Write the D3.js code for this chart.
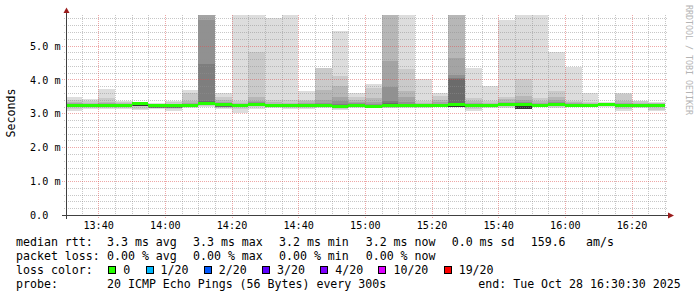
<!DOCTYPE html>
<html>
<head>
<meta charset="utf-8">
<script src="https://cdn.jsdelivr.net/npm/d3@7"></script>
<style>
html, body { margin: 0; padding: 0; background: #ffffff; }
svg { display: block; }
</style>
</head>
<body>
<svg id="chart" width="697" height="297"></svg>
<script>
// one slot every 300s, 20 pings each
var slotStart = ["13:30","13:35","13:40","13:45","13:50","13:55",
	"14:00","14:05","14:10","14:15","14:20","14:25",
	"14:30","14:35","14:40","14:45","14:50","14:55",
	"15:00","15:05","15:10","15:15","15:20","15:25",
	"15:30","15:35","15:40","15:45","15:50","15:55",
	"16:00","16:05","16:10","16:15","16:20","16:25"];

// median rtt (ms)
var median = [3.24,3.24,3.24,3.22,3.28,3.22,3.22,3.23,3.30,3.25,3.24,3.27,
	3.24,3.22,3.24,3.23,3.21,3.24,3.21,3.23,3.23,3.23,3.23,3.27,
	3.23,3.22,3.25,3.25,3.23,3.27,3.24,3.24,3.27,3.24,3.24,3.24];

// lost pings out of 20
var lost = [0,0,0,0,0,0,0,0,0,0,0,0,0,0,0,0,0,0,
	0,0,0,0,0,0,0,0,0,0,0,0,0,0,0,0,0,0];

// smoke: upper edge of each layer, outermost first (ms)
var top1 = [3.47,3.42,3.72,3.37,3.32,3.29,3.37,3.69,6.50,3.59,6.20,6.30,
	5.81,6.10,3.66,4.35,5.43,3.61,3.86,6.40,6.20,4.00,3.59,6.30,
	4.35,3.81,5.75,6.30,6.10,4.80,4.38,3.60,3.32,3.60,3.37,3.32];
var top2 = [3.40,3.37,3.44,3.33,3.31,3.27,3.32,3.59,6.30,3.48,3.36,4.82,
	3.40,3.38,3.40,4.33,4.11,3.47,3.74,6.20,4.31,3.36,3.52,6.10,
	3.45,3.36,3.48,4.00,3.46,3.66,3.36,3.33,3.30,3.58,3.35,3.31];
var top3 = [3.33,3.30,3.33,3.29,3.30,3.26,3.28,3.35,6.10,3.39,3.30,3.47,
	3.32,3.31,3.36,3.69,3.81,3.39,3.45,6.00,3.67,3.30,3.40,5.95,
	3.35,3.30,3.42,3.50,3.36,3.48,3.33,3.29,3.29,3.35,3.30,3.29];
var top4 = [3.30,3.28,3.30,3.27,3.30,3.25,3.26,3.30,5.95,3.34,3.28,3.36,
	3.28,3.27,3.30,3.40,3.49,3.33,3.32,4.55,3.47,3.27,3.32,4.64,
	3.30,3.27,3.34,3.38,3.30,3.38,3.30,3.27,3.28,3.29,3.28,3.27];
var top5 = [3.28,3.28,3.28,3.26,3.30,3.24,3.25,3.27,5.75,3.31,3.27,3.32,
	3.27,3.25,3.27,3.30,3.35,3.29,3.28,3.78,3.34,3.26,3.28,4.13,
	3.27,3.25,3.30,3.32,3.27,3.32,3.28,3.26,3.28,3.27,3.27,3.26];
var top6 = [3.26,3.27,3.26,3.25,3.30,3.24,3.24,3.25,4.45,3.29,3.26,3.30,
	3.26,3.24,3.26,3.27,3.28,3.27,3.25,3.37,3.28,3.25,3.26,4.04,
	3.25,3.24,3.28,3.29,3.25,3.30,3.27,3.25,3.28,3.26,3.26,3.25];
var top7 = [3.25,3.26,3.25,3.24,3.30,3.23,3.23,3.24,3.36,3.27,3.25,3.29,
	3.25,3.23,3.25,3.25,3.25,3.26,3.23,3.30,3.26,3.24,3.25,4.00,
	3.24,3.23,3.27,3.27,3.24,3.29,3.26,3.25,3.27,3.25,3.25,3.25];

// smoke: lower edges (outer, second, and the inner layers)
var bot1 = [3.08,3.12,3.14,3.12,3.10,3.12,3.08,3.15,3.18,3.12,3.00,3.14,
	3.15,3.14,3.14,3.17,3.10,3.17,3.15,3.15,3.15,3.17,3.19,3.19,
	3.07,3.17,3.17,3.12,3.19,3.15,3.19,3.19,3.19,3.08,3.15,3.06];
var bot2 = [3.13,3.16,3.17,3.15,3.14,3.15,3.12,3.18,3.21,3.16,3.12,3.18,
	3.18,3.17,3.17,3.19,3.14,3.19,3.17,3.17,3.18,3.19,3.20,3.21,
	3.12,3.19,3.19,3.15,3.20,3.18,3.20,3.20,3.21,3.13,3.18,3.11];
var bot3 = [3.19,3.19,3.20,3.18,3.22,3.17,3.17,3.19,3.25,3.20,3.19,3.22,
	3.20,3.18,3.20,3.19,3.17,3.20,3.17,3.19,3.19,3.19,3.19,3.23,
	3.18,3.18,3.21,3.20,3.19,3.22,3.20,3.20,3.22,3.20,3.20,3.20];

// darkest core (middle pings)
var coreLo = [3.22,3.22,3.22,3.20,3.22,3.20,3.20,3.21,3.27,3.23,3.22,3.25,
	3.22,3.19,3.22,3.21,3.19,3.22,3.19,3.21,3.21,3.21,3.20,3.18,
	3.21,3.20,3.23,3.13,3.21,3.25,3.19,3.22,3.25,3.19,3.22,3.22];
var coreHi = [3.26,3.26,3.26,3.24,3.29,3.24,3.24,3.25,3.33,3.27,3.26,3.29,
	3.26,3.24,3.26,3.25,3.23,3.26,3.23,3.25,3.25,3.25,3.25,3.29,
	3.25,3.24,3.27,3.27,3.25,3.29,3.26,3.26,3.29,3.26,3.26,3.26];

var yTickValues = [0, 1, 2, 3, 4, 5];
var yTickLabels = ["0.0", "1.0 m", "2.0 m", "3.0 m", "4.0 m", "5.0 m"];
var xTickLabels = ["13:40","14:00","14:20","14:40","15:00","15:20","15:40","16:00","16:20"];

var lossSteps = [0, 1, 2, 3, 4, 10, 19];
var lossLabels = ["0", "1/20", "2/20", "3/20", "4/20", "10/20", "19/20"];
var lossColors = ["#26ff00", "#00b8ff", "#0059ff", "#5e00ff", "#7e00ff", "#dd00ff", "#ff0000"];

var medianStats = ["3.3 ms avg", "3.3 ms max", "3.2 ms min", "3.2 ms now", "0.0 ms sd", "159.6", "am/s"];
var lossStats = ["0.00 % avg", "0.00 % max", "0.00 % min", "0.00 % now"];
var probeText = "20 ICMP Echo Pings (56 Bytes) every 300s";
var endText = "end: Tue Oct 28 16:30:30 2025";


var MONO = "'DejaVu Sans Mono', 'Liberation Mono', monospace";
var LEGEND_SIZE = "11.6px";
var AXIS_SIZE = "10.15px";

var timeOf = function(hm, sec) {
	var p = hm.split(":");
	return new Date(2025, 9, 28, +p[0], +p[1], sec || 0);
};

var plot = { left: 66.5, right: 666.5, top: 15, bottom: 215 };

var x = d3.scaleTime()
	.domain([timeOf("13:30", 30), timeOf("16:30", 30)])
	.range([plot.left, plot.right]);

var y = d3.scaleLinear()
	.domain([0, 5.9])
	.range([plot.bottom, plot.top]);

var svg = d3.select("#chart");

svg.append("rect").attr("width", 697).attr("height", 297).attr("fill", "#ffffff");

svg.append("clipPath").attr("id", "plotclip")
	.append("rect")
	.attr("x", plot.left).attr("y", plot.top)
	.attr("width", plot.right - plot.left)
	.attr("height", plot.bottom - plot.top);

// smoke layers, light outside -> dark inside
var greys = ["#dddddd", "#cacaca", "#b7b7b7", "#a4a4a4", "#919191", "#7e7e7e", "#6b6b6b"];
var layerTops = [top1, top2, top3, top4, top5, top6, top7];
var layerBots = [bot1, bot2, bot3, bot3, bot3, bot3, bot3];

var slotX = function(d) { return x(timeOf(d)); };
var slotW = function(d) { return x(d3.timeMinute.offset(timeOf(d), 5)) - x(timeOf(d)); };

var each = function(arr, fn) { for (var i = 0; i < arr.length; i++) fn(i, arr[i]); };

var smoke = svg.append("g").attr("clip-path", "url(#plotclip)").attr("shape-rendering", "crispEdges");

each(layerTops, function(k, tops) {
	smoke.append("g").attr("fill", greys[k])
		.selectAll("rect").data(slotStart).enter().append("rect")
		.attr("x", slotX)
		.attr("width", slotW)
		.attr("y", function(d, i) { return y(tops[i]); })
		.attr("height", function(d, i) { return Math.max(0, y(layerBots[k][i]) - y(tops[i])); });
});

smoke.append("g").attr("fill", "#323232")
	.selectAll("rect").data(slotStart).enter().append("rect")
	.attr("x", slotX)
	.attr("width", slotW)
	.attr("y", function(d, i) { return y(coreHi[i]); })
	.attr("height", function(d, i) { return y(coreLo[i]) - y(coreHi[i]); });

// grid (drawn over the smoke, like rrdtool)
var gridMinorY = d3.range(1, 30).map(function(v) { return v / 5; }).filter(function(v) { return v % 1 !== 0 && v < 5.9; });
var gridMajorY = yTickValues;
var gridMinorX = d3.timeMinute.every(5).range(timeOf("13:35"), timeOf("16:31"))
	.filter(function(t) { return t.getMinutes() % 20 !== 0; });
var gridMajorX = xTickLabels.map(function(s) { return timeOf(s); });

var grid = svg.append("g").attr("shape-rendering", "crispEdges").attr("stroke-dasharray", "1,1");

var hline = function(vals, color, x0) {
	grid.append("g").selectAll("line").data(vals).enter().append("line")
		.attr("x1", x0).attr("x2", plot.right + 1)
		.attr("y1", function(d) { return Math.round(y(d)) + 0.5; })
		.attr("y2", function(d) { return Math.round(y(d)) + 0.5; })
		.attr("stroke", color);
};
var vline = function(vals, color, y1) {
	grid.append("g").selectAll("line").data(vals).enter().append("line")
		.attr("y1", plot.top).attr("y2", y1)
		.attr("x1", function(d) { return Math.round(x(d)) + 0.5; })
		.attr("x2", function(d) { return Math.round(x(d)) + 0.5; })
		.attr("stroke", color);
};

hline(gridMinorY, "rgba(143,143,143,0.5)", 64);
vline(gridMinorX, "rgba(143,143,143,0.5)", 217);
hline(gridMajorY.filter(function(v) { return v > 0; }), "rgba(222,80,80,0.5)", 62);
vline(gridMajorX, "rgba(222,80,80,0.5)", 218);

// median band coloured by loss
var lossColor = function(n) {
	var c = lossColors[0];
	each(lossSteps, function(i, s) { if (n >= s) c = lossColors[i]; });
	return c;
};

svg.append("g").attr("clip-path", "url(#plotclip)").attr("shape-rendering", "crispEdges")
	.selectAll("rect").data(slotStart).enter().append("rect")
	.attr("x", slotX)
	.attr("width", slotW)
	.attr("y", function(d, i) { return y(median[i]) - 1.5; })
	.attr("height", 3)
	.attr("fill", function(d, i) { return lossColor(lost[i]); });

// axes
var axisColor = "#404040";
var arrowColor = "#9b1c1c";

svg.append("line")
	.attr("x1", 62).attr("x2", 669).attr("y1", 215.5).attr("y2", 215.5)
	.attr("stroke", axisColor).attr("shape-rendering", "crispEdges");
svg.append("line")
	.attr("x1", 66.5).attr("x2", 66.5).attr("y1", 219).attr("y2", 12)
	.attr("stroke", axisColor).attr("shape-rendering", "crispEdges");
svg.append("path").attr("d", "M668,212.5 L674,215.5 L668,218.5 Z").attr("fill", arrowColor);
svg.append("path").attr("d", "M63.5,13 L66.5,7.5 L69.5,13 Z").attr("fill", arrowColor);

var yAxis = svg.append("g")
	.attr("transform", "translate(" + plot.left + ",0)")
	.call(d3.axisLeft(y)
		.tickValues(yTickValues)
		.tickFormat(function(d, i) { return yTickLabels[i]; })
		.tickSize(0));
yAxis.select(".domain").remove();
yAxis.selectAll("text")
	.attr("x", 30 - plot.left)
	.attr("dy", null)
	.attr("y", 3.6)
	.attr("text-anchor", "start")
	.attr("font-family", MONO)
	.attr("font-size", AXIS_SIZE)
	.attr("fill", "#000");

var xAxis = svg.append("g")
	.attr("transform", "translate(0," + plot.bottom + ")")
	.call(d3.axisBottom(x)
		.tickValues(gridMajorX)
		.tickFormat(d3.timeFormat("%H:%M"))
		.tickSize(0));
xAxis.select(".domain").remove();
xAxis.selectAll("text")
	.attr("dy", null)
	.attr("y", 13.5)
	.attr("font-family", MONO)
	.attr("font-size", AXIS_SIZE)
	.attr("fill", "#000");

// vertical unit label
svg.append("text")
	.attr("transform", "translate(15,113) rotate(-90)")
	.attr("text-anchor", "middle")
	.attr("font-family", MONO)
	.attr("font-size", LEGEND_SIZE)
	.attr("fill", "#000")
	.text("Seconds");

// rrdtool signature
svg.append("text")
	.attr("transform", "translate(685.5,60) rotate(90)")
	.attr("text-anchor", "middle")
	.attr("font-family", MONO)
	.attr("font-size", "8.3px")
	.attr("fill", "#b4b4b4")
	.text("RRDTOOL / TOBI OETIKER");

// legend
var rowY = [245.5, 259.5, 273.5, 287.5];
var legend = svg.append("g")
	.attr("font-family", MONO)
	.attr("font-size", LEGEND_SIZE)
	.attr("fill", "#000")
	.attr("xml:space", "preserve");

var put = function(tx, ty, s) {
	legend.append("text").attr("x", tx).attr("y", ty).text(s);
};

var statX = [107, 193, 279, 365.7, 451.7, 530.7, 586];

put(16, rowY[0], "median rtt:");
each(medianStats, function(i, s) { put(statX[i], rowY[0], s); });

put(16, rowY[1], "packet loss:");
each(lossStats, function(i, s) { put(statX[i], rowY[1], s); });

put(16, rowY[2], "loss color:");
var cursor = 108.3;
var CHAR_W = 6.98;
each(lossLabels, function(i, s) {
	legend.append("rect")
		.attr("x", Math.round(cursor) + 0.5).attr("y", rowY[2] - 7)
		.attr("width", 7).attr("height", 7)
		.attr("fill", lossColors[i])
		.attr("stroke", "#000")
		.attr("shape-rendering", "crispEdges");
	put(cursor + 15, rowY[2], s);
	cursor = cursor + 15 + s.length * CHAR_W + 15.3;
});

put(16, rowY[3], "probe:");
put(107, rowY[3], probeText);
put(478.3, rowY[3], endText);
</script>
</body>
</html>
